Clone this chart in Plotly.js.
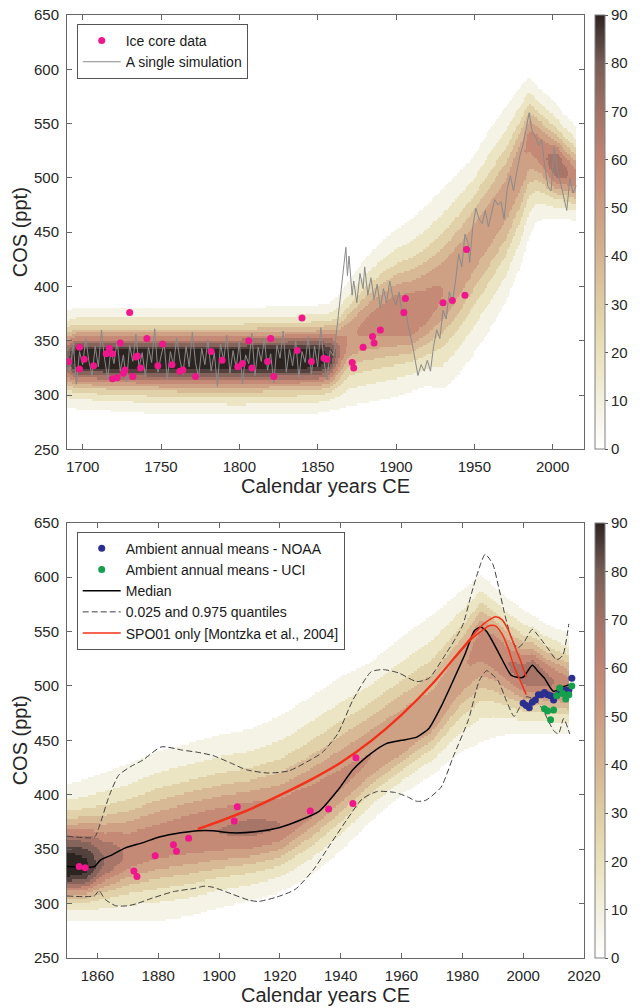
<!DOCTYPE html>
<html><head><meta charset="utf-8">
<script src="https://cdn.plot.ly/plotly-3.0.1.min.js"></script>
<style>html,body{margin:0;padding:0;background:#fff}#chart{width:644px;height:1008px}</style>
</head><body><div id="chart"></div>
<script>
// ---------- Ice core data ----------
const iceYears = [1691,1698,1698,1701,1707,1715,1717,1719,1719,1722,1724,1726,1727,1730,1732,1734,1735,1737,1741,1748,1751,1757,1762,1764,1772,1782,1789,1799,1802,1806,1808,1818,1820,1822,1837,1840,1846,1854,1856,1872,1873,1879,1885,1886,1890,1905,1906,1930,1936,1944,1945];
const iceCOS   = [331,344,324,333,327,338,343,338,315,316,348,320,323,376,317,335,336,325,352,327,347,328,322,323,317,340,332,326,329,350,325,331,352,317,341,371,331,334,333,330,325,344,354,348,360,376,389,385,387,392,434];

// ---------- A single simulation ----------
const simEarlyStart = 1690;   // values every 2 years from 1690
const simEarlyCOS = [335,322,348,310,340,328,352,331,318,345,326,360,333,315,342,329,350,322,337,312,346,331,356,325,339,317,344,330,361,321,336,348,314,340,327,353,333,319,345,326,358,330,316,343,328,351,322,339,308,347,332,355,320,341,325,349,310,337,329,357,318,344,331,352,323,338,311,346,334,359,321,342,327,350,316,340,330,354,319,345,326,362,331,314,341,336];
const simLateYears = [1861,1863,1865,1867,1868,1869,1870,1872,1873,1875,1877,1879,1880,1882,1884,1886,1888,1890,1892,1894,1896,1898,1900,1902,1904,1906,1908,1910,1912,1914,1916,1918,1920,1922,1924,1926,1928,1930,1932,1934,1936,1938,1940,1942,1944,1946,1947,1949,1951,1953,1955,1957,1959,1961,1963,1965,1967,1969,1971,1973,1975,1977,1979,1981,1983,1985,1987,1989,1991,1993,1995,1997,1999,2001,2003,2005,2007,2009,2011,2013,2015];
const simLateCOS   = [345,370,395,425,436,410,428,392,405,385,412,398,418,392,408,388,402,380,398,385,405,390,383,395,372,380,362,350,335,318,328,322,332,322,345,360,352,378,370,395,385,405,430,418,448,440,422,455,472,462,458,470,455,468,480,475,478,462,490,502,488,505,520,530,545,560,542,538,530,535,510,492,488,528,508,495,485,470,500,486,493];

// ---------- Bottom panel lines ----------
const medYears = [1850,1859,1861,1865,1869,1875,1880,1885,1893,1898,1904,1912,1920,1927,1933,1939,1944,1950,1955,1960,1965,1969,1973,1977,1981,1984,1986,1988,1992,1996,1998,2000,2003,2005,2007,2010,2013,2015];
const medCOS   = [334,334,340,345,351,356,361,364,367,367,365,366,370,377,385,404,423,438,447,450,453,461,481,505,530,551,554,550,530,510,508,508,519,513,507,495,499,501];

const qHiYears = [1850,1859,1860.5,1864,1867,1871,1875,1881,1888,1893,1898,1904,1909,1916,1923,1930,1934,1939,1944,1950,1954,1959,1965,1969,1974,1980,1983,1985.5,1987.5,1990,1992,1994,1996,1998,2000,2003,2005,2008,2011,2013,2015];
const qHiCOS   = [362,361,370,400,418,426,432,444,441,439,436,429,423,420,422,432,439,456,487,513,515,512,504,507,527,555,585,608,621,612,590,565,545,535,539,552,546,535,524,528,557];

const qLoYears = [1850,1859,1860.5,1862.5,1866,1870,1873,1878,1885,1892,1895,1898,1904,1910,1913,1919,1925,1931,1936,1942,1947,1952,1958,1962,1965,1968,1973,1977,1982,1985.6,1988,1991.7,1994.4,1997,1999,2001,2004,2006.5,2010,2011.6,2013.3,2015.3];
const qLoCOS   = [307,307,312,304,298,298,300,305,311,314,316,315,309,303,302,306,313,331,352,377,396,403,402,398,394,395,407,435,469,505,514,505,487,472,481,490,487,478,459,456,470,456];

const spoYears = [1893,1900,1910,1920,1930,1940,1950,1960,1970,1977,1983,1987,1989,1991,1993,1995,1997,1999,2001];
const spoHi    = [369,376,387,400,414,430,450,474,502,525,545,557,561,563.5,561,552,538,524,508];
const spoLo    = [368,375,386,399,413,429,449,473,501,524,543,552,555.5,555,548,535,518,505,492];

// ---------- Ambient annual means ----------
const noaaYears = [2000,2001,2002,2003,2004,2005,2006,2007,2008,2009,2010,2011,2012,2013,2014,2015,2016];
const noaaCOS   = [484,482,480,485,487,492,492,494,492,491,487,491,494,495,496,496,507];
const uciYears  = [2007,2008,2009,2010,2011,2012,2013,2014,2015,2016];
const uciCOS    = [479,477,469,478,491,498,493,488,492,500];

// ---------- Density envelopes (read from the shaded areas) ----------
const topDensYears  = [1690,1696,1750,1800,1850,1858,1864,1870,1880,1890,1900,1910,1920,1930,1940,1950,1960,1970,1980,1985,1990,1995,2000,2003,2008,2015];
const topDensCenter = [333,333,333,333,334,335,340,352,362,368,372,372,380,395,415,438,458,480,515,535,530,520,512,510,505,498];
const topDensLow    = [288,287,282,281,283,285,287,290,292,295,298,303,308,305,318,338,360,385,420,445,460,462,462,462,462,460];
const topDensHigh   = [378,380,380,380,383,385,392,405,425,440,452,462,475,490,505,520,545,565,585,592,585,578,572,566,558,548];
const topDensPeak   = [75,100,100,100,100,88,60,48,52,56,60,60,55,50,48,46,45,45,48,52,55,58,65,70,62,55];

const botDensYears  = [1850,1856,1862,1870,1880,1890,1900,1910,1920,1930,1940,1950,1960,1970,1980,1986,1990,1995,2000,2003,2008,2015];
const botDensCenter = [333,333,338,346,356,362,366,368,372,390,412,435,452,472,515,540,535,520,510,512,505,498];
const botDensLow    = [284,284,284,284,284,288,296,302,310,325,348,376,400,418,440,448,452,456,456,456,456,456];
const botDensHigh   = [410,414,420,428,440,447,455,460,472,490,508,522,545,565,588,602,592,580,570,565,556,548];
const botDensPeak   = [100,94,70,58,56,58,60,62,60,55,52,50,50,48,48,55,58,60,64,70,62,55];

// colour shown for each density band (band 0: 3-10, band 1: 10-20, ..., band 9: >=90)
const bandColourValue = [8,18,28,38,48,58,68,77,85,90];
const cbTicks = [0,10,20,30,40,50,60,70,80,90];

// ---------- build density grids ----------
function interp(xs, vs, x){
  if (x <= xs[0]) return vs[0];
  for (let i=1;i<xs.length;i++){
    if (x <= xs[i]){ const t=(x-xs[i-1])/(xs[i]-xs[i-1]); return vs[i-1]+t*(vs[i]-vs[i-1]); }
  }
  return vs[vs.length-1];
}
function density(yrs, cen, lo, hi, pk, x0, x1, dx){
  const thr = 3;
  const xs=[], ys=[];
  for (let x=x0; x<=x1+1e-9; x+=dx) xs.push(x);
  for (let y=251; y<=650; y+=2) ys.push(y);
  const z = ys.map(y => xs.map(x => {
    const c=interp(yrs,cen,x), l=interp(yrs,lo,x), h=interp(yrs,hi,x), p=interp(yrs,pk,x);
    const k=Math.sqrt(2*Math.log(p/thr));
    const s = y>=c ? (h-c)/k : (c-l)/k;
    const v = p*Math.exp(-0.5*((y-c)/s)*((y-c)/s));
    if (v < thr) return null;
    return bandColourValue[Math.min(9, Math.floor(v/10))];
  }));
  return {xs, ys, z};
}
const topD = density(topDensYears, topDensCenter, topDensLow, topDensHigh, topDensPeak, 1690.5, 2014.5, 1);
const botD = density(botDensYears, botDensCenter, botDensLow, botDensHigh, botDensPeak, 1850.25, 2014.75, 0.5);

const cscale = [
  [0.000,'#ffffff'],[0.111,'#f3f0df'],[0.222,'#e9e2bd'],[0.333,'#dfcda3'],
  [0.444,'#d5b492'],[0.556,'#cc9c82'],[0.667,'#c28573'],[0.778,'#a27267'],
  [0.889,'#785e56'],[1.000,'#2c2421']
];
function cbar(y, yanchor, len){
  return {x:1.021, xanchor:'left', y:y, yanchor:yanchor, len:len, lenmode:'fraction',
    thickness:10, outlinecolor:'#808080', outlinewidth:1, tickvals:cbTicks,
    ticks:'outside', ticklen:3, tickcolor:'#555', tickfont:{size:15, color:'#262626'},
    xpad:0, ypad:0};
}

const simYears = simEarlyCOS.map((_,i)=>simEarlyStart+2*i).concat(simLateYears);
const simCOS = simEarlyCOS.concat(simLateCOS);

const iceBotX=[], iceBotY=[];
iceYears.forEach((y,i)=>{ if (y>=1850){ iceBotX.push(y); iceBotY.push(iceCOS[i]); } });

const PINK='#f0168c', BLUE='#2b2f90', GREEN='#14a04c', RED='#f4301a';

const traces = [
  {type:'heatmap', x:topD.xs, y:topD.ys, z:topD.z, xaxis:'x', yaxis:'y', zmin:0, zmax:90,
   colorscale:cscale, zsmooth:false, hoverinfo:'skip', showlegend:false, colorbar:cbar(1,'top',0.4606)},
  {type:'scatter', mode:'lines', x:simYears, y:simCOS, xaxis:'x', yaxis:'y',
   line:{color:'#8a8a8a', width:1}, name:'A single simulation', legend:'legend', legendrank:2},
  {type:'scatter', mode:'markers', x:iceYears, y:iceCOS, xaxis:'x', yaxis:'y',
   marker:{color:PINK, size:7}, name:'Ice core data', legend:'legend', legendrank:1},

  {type:'heatmap', x:botD.xs, y:botD.ys, z:botD.z, xaxis:'x2', yaxis:'y2', zmin:0, zmax:90,
   colorscale:cscale, zsmooth:false, hoverinfo:'skip', showlegend:false, colorbar:cbar(0,'bottom',0.4616)},
  {type:'scatter', mode:'lines', x:qHiYears, y:qHiCOS, xaxis:'x2', yaxis:'y2', line:{color:'#404040', width:1, dash:'6px,3px', shape:'spline', smoothing:0.6},
   name:'0.025 and 0.975 quantiles', legend:'legend2', legendrank:4},
  {type:'scatter', mode:'lines', x:qLoYears, y:qLoCOS, xaxis:'x2', yaxis:'y2', line:{color:'#404040', width:1, dash:'6px,3px', shape:'spline', smoothing:0.6},
   showlegend:false, legend:'legend2'},
  {type:'scatter', mode:'lines', x:medYears, y:medCOS, xaxis:'x2', yaxis:'y2', line:{color:'#000', width:1.5, shape:'spline', smoothing:0.6},
   name:'Median', legend:'legend2', legendrank:3},
  {type:'scatter', mode:'lines', x:spoYears, y:spoHi, xaxis:'x2', yaxis:'y2', line:{color:RED, width:1.5, shape:'spline', smoothing:0.8},
   name:'SPO01 only [Montzka et al., 2004]', legend:'legend2', legendrank:5},
  {type:'scatter', mode:'lines', x:spoYears, y:spoLo, xaxis:'x2', yaxis:'y2', line:{color:RED, width:1.5, shape:'spline', smoothing:0.8},
   showlegend:false, legend:'legend2'},
  {type:'scatter', mode:'markers', x:iceBotX, y:iceBotY, xaxis:'x2', yaxis:'y2', marker:{color:PINK, size:7}, showlegend:false},
  {type:'scatter', mode:'markers', x:noaaYears, y:noaaCOS, xaxis:'x2', yaxis:'y2', marker:{color:BLUE, size:7},
   name:'Ambient annual means - NOAA', legend:'legend2', legendrank:1},
  {type:'scatter', mode:'markers', x:uciYears, y:uciCOS, xaxis:'x2', yaxis:'y2', marker:{color:GREEN, size:7},
   name:'Ambient annual means - UCI', legend:'legend2', legendrank:2}
];

const axBase = {ticks:'inside', ticklen:5, tickcolor:'#666', showline:true, linecolor:'#666', linewidth:1,
  mirror:'allticks', showgrid:false, zeroline:false, tickfont:{size:15, color:'#262626'}, fixedrange:true};
const legBase = {xanchor:'left', yanchor:'top', bordercolor:'#555', borderwidth:1, bgcolor:'#fff',
  font:{size:14, color:'#1a1a1a'}, tracegroupgap:0, itemwidth:38, traceorder:'normal'};

const layout = {
  width:644, height:1008, margin:{l:67, r:60, t:15, b:50},
  paper_bgcolor:'#fff', plot_bgcolor:'#fff',
  font:{family:'"Liberation Sans", Arial, Helvetica, sans-serif', size:15, color:'#262626'},
  xaxis:Object.assign({}, axBase, {domain:[0,1], anchor:'y', range:[1690,2020], tickvals:[1700,1750,1800,1850,1900,1950,2000],
    ticklabelstandoff:4, title:{text:'Calendar years CE', font:{size:20}, standoff:4}}),
  yaxis:Object.assign({}, axBase, {domain:[0.5394,1], anchor:'x', range:[250,650], tickvals:[250,300,350,400,450,500,550,600,650],
    ticklabelstandoff:4, title:{text:'COS (ppt)', font:{size:20}, standoff:0}}),
  xaxis2:Object.assign({}, axBase, {domain:[0,1], anchor:'y2', range:[1850,2020], tickvals:[1860,1880,1900,1920,1940,1960,1980,2000,2020],
    ticklabelstandoff:4, title:{text:'Calendar years CE', font:{size:20}, standoff:4}}),
  yaxis2:Object.assign({}, axBase, {domain:[0,0.4616], anchor:'x2', range:[250,650], tickvals:[250,300,350,400,450,500,550,600,650],
    ticklabelstandoff:4, title:{text:'COS (ppt)', font:{size:20}, standoff:0}}),
  legend:Object.assign({}, legBase, {x:0.0188, y:0.9905}),
  legend2:Object.assign({}, legBase, {x:0.0188, y:0.4521}),
  showlegend:true
};

Plotly.newPlot('chart', traces, layout, {displayModeBar:false, staticPlot:true});
</script></body></html>
